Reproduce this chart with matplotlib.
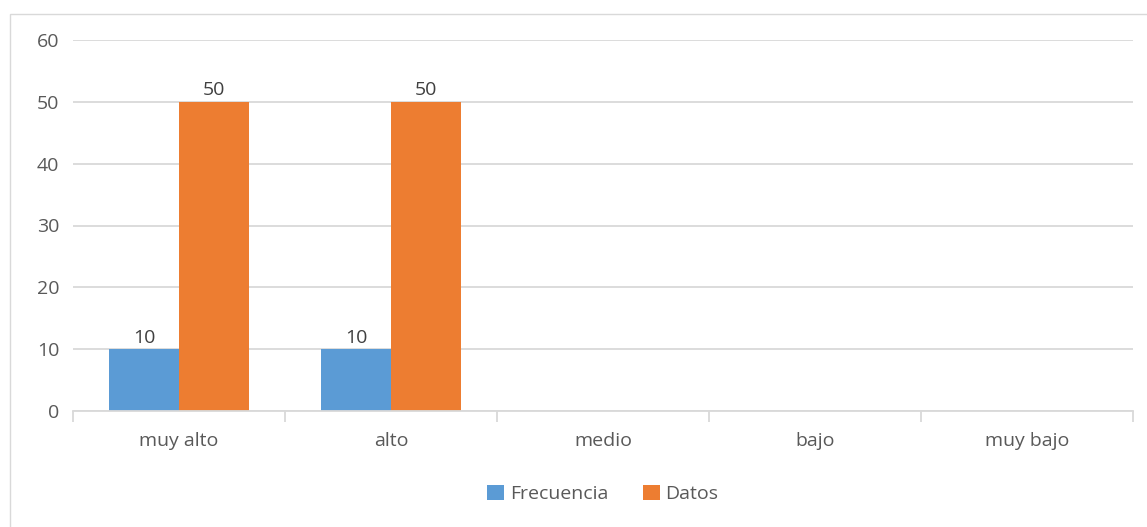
import matplotlib.pyplot as plt
import numpy as np
from matplotlib.patches import Rectangle

categories = ["muy alto", "alto", "medio", "bajo", "muy bajo"]
frecuencia = [10, 10, 0, 0, 0]
datos = [50, 50, 0, 0, 0]
yticks = [0, 10, 20, 30, 40, 50, 60]

plt.rcParams['font.family'] = ['Open Sans', 'DejaVu Sans']
text_color = '#595959'
grid_color = '#d9d9d9'

fig = plt.figure(figsize=(11.47, 5.27), dpi=100)
fig.patches.append(Rectangle((10 / 1147, -0.1), 1.2, 1 - 14 / 527 + 0.1,
                             transform=fig.transFigure, fill=False,
                             edgecolor=grid_color, linewidth=1))
ax = fig.add_axes([73 / 1147, 1 - 411 / 527, (1133 - 73) / 1147, (411 - 40) / 527])

x = np.arange(len(categories))
w = 0.33
b1 = ax.bar(x - w / 2, frecuencia, w, color='#5b9bd5', label='Frecuencia')
b2 = ax.bar(x + w / 2, datos, w, color='#ed7d31', label='Datos')

for bars, vals in ((b1, frecuencia), (b2, datos)):
    for bar, v in zip(bars, vals):
        if v:
            ax.text(bar.get_x() + bar.get_width() / 2, v + 0.4, str(v),
                    ha='center', va='bottom', fontsize=14, color='#404040')

ax.set_xlim(-0.5, len(categories) - 0.5)
ax.set_ylim(0, 60)
ax.set_yticks(yticks)
ax.yaxis.grid(True, color=grid_color, linewidth=1.3)
ax.set_axisbelow(True)
for s in ('top', 'right', 'left'):
    ax.spines[s].set_visible(False)
ax.spines['bottom'].set_color(grid_color)
ax.spines['bottom'].set_linewidth(1.3)

ax.set_xticks(x)
ax.set_xticklabels(categories)
ax.set_xticks(np.arange(len(categories) + 1) - 0.5, minor=True)
ax.tick_params(axis='x', which='major', length=0, pad=15, labelsize=14, labelcolor=text_color)
ax.tick_params(axis='x', which='minor', length=8, color=grid_color, width=1.3)
ax.tick_params(axis='y', length=0, pad=10, labelsize=14, labelcolor=text_color)

ax.legend(loc='center', bbox_to_anchor=(0.5, (411 - 494) / (411 - 40)), ncol=2, frameon=False,
          fontsize=14, labelcolor=text_color, handlelength=0.85, handleheight=0.85,
          handletextpad=0.3, columnspacing=1.8)

fig.savefig('out.png', dpi=100)
